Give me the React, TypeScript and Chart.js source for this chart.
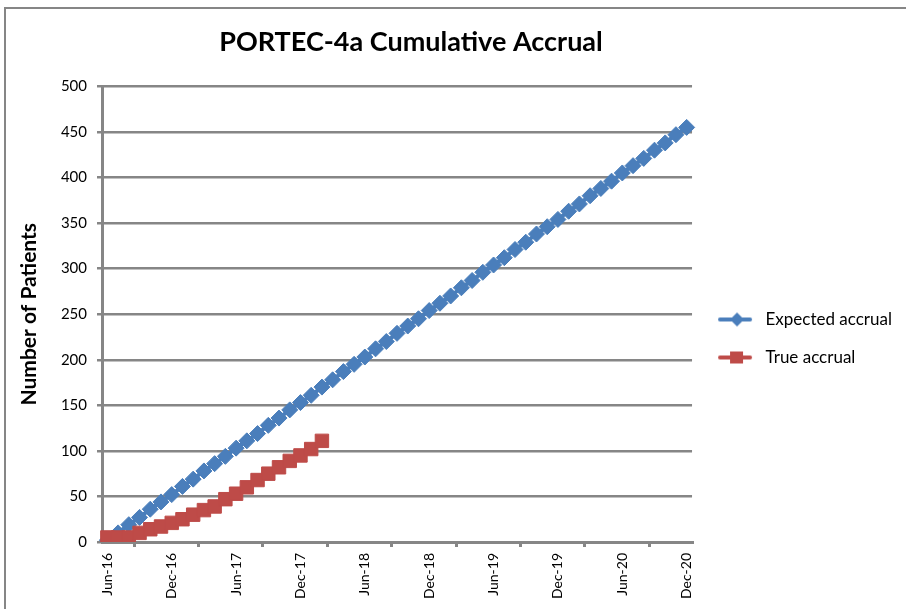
import React, { useEffect, useRef } from "react";
import { Chart, registerables } from "chart.js";

Chart.register(...registerables);

const months: string[] = [
  "Jun-16", "Jul-16", "Aug-16", "Sep-16", "Oct-16", "Nov-16", "Dec-16",
  "Jan-17", "Feb-17", "Mar-17", "Apr-17", "May-17", "Jun-17", "Jul-17", "Aug-17", "Sep-17", "Oct-17", "Nov-17", "Dec-17",
  "Jan-18", "Feb-18", "Mar-18", "Apr-18", "May-18", "Jun-18", "Jul-18", "Aug-18", "Sep-18", "Oct-18", "Nov-18", "Dec-18",
  "Jan-19", "Feb-19", "Mar-19", "Apr-19", "May-19", "Jun-19", "Jul-19", "Aug-19", "Sep-19", "Oct-19", "Nov-19", "Dec-19",
  "Jan-20", "Feb-20", "Mar-20", "Apr-20", "May-20", "Jun-20", "Jul-20", "Aug-20", "Sep-20", "Oct-20", "Nov-20", "Dec-20",
];

const expectedAccrual: number[] = [
  2, 10, 19, 27, 36, 44, 52, 61, 69, 78, 86, 94, 103, 111, 119, 128, 136, 145, 153, 161,
  170, 178, 187, 195, 203, 212, 220, 229, 237, 245, 254, 262, 270, 279, 287, 296, 304, 312,
  321, 329, 338, 346, 354, 363, 371, 380, 388, 396, 405, 413, 421, 430, 438, 447, 455,
];

const trueAccrual: number[] = [
  5, 5, 5, 10, 14, 17, 21, 25, 30, 35, 39, 47, 53, 60, 68, 75, 82, 89, 95, 102, 111,
];

const seriesLabels = ["Expected accrual", "True accrual"];
const yTicks = { min: 0, max: 500, step: 50 };

const BLUE = "#4A7EBB";
const RED = "#BE4B48";
const GREY = "#868686";
const FONT = "Lato";

function makeIcon(color: string, shape: "diamond" | "square") {
  const c = document.createElement("canvas");
  c.width = 36;
  c.height = 16;
  const g = c.getContext("2d")!;
  g.strokeStyle = color;
  g.lineWidth = 4;
  g.lineCap = "round";
  g.beginPath();
  g.moveTo(3, 8);
  g.lineTo(33, 8);
  g.stroke();
  g.fillStyle = color;
  g.beginPath();
  if (shape === "diamond") {
    g.moveTo(20, 1);
    g.lineTo(27, 8);
    g.lineTo(20, 15);
    g.lineTo(13, 8);
    g.closePath();
  } else {
    g.rect(13, 2, 13, 12);
  }
  g.fill();
  return c;
}

export default function App() {
  const ref = useRef<HTMLCanvasElement>(null);

  useEffect(() => {
    if (!ref.current) return;
    const icons = [makeIcon(BLUE, "diamond"), makeIcon(RED, "square")];
    const chart = new Chart(ref.current, {
      type: "line",
      data: {
        labels: months,
        datasets: [
          {
            label: seriesLabels[0],
            data: expectedAccrual,
            borderColor: BLUE,
            backgroundColor: BLUE,
            borderWidth: 4,
            pointStyle: "rectRot",
            pointRadius: 8,
            pointBorderWidth: 1,
            order: 1,
          },
          {
            label: seriesLabels[1],
            data: trueAccrual,
            borderColor: RED,
            backgroundColor: RED,
            borderWidth: 4,
            pointStyle: "rect",
            pointRadius: 9.5,
            pointBorderWidth: 1,
            order: 0,
          },
        ],
      },
      options: {
        responsive: false,
        animation: false,
        devicePixelRatio: 1,
        layout: { padding: 0 },
        plugins: {
          title: {
            display: true,
            text: "PORTEC-4a Cumulative Accrual",
            color: "#000",
            font: { family: FONT, size: 27, weight: "bold" },
            padding: { top: 26, bottom: 28 },
          },
          legend: {
            position: "right",
            labels: {
              usePointStyle: true,
              pointStyleWidth: 44,
              boxHeight: 17,
              padding: 21,
              color: "#000",
              font: { family: FONT, size: 17 },
              generateLabels: (ch: any) =>
                ch.data.datasets.map((ds: any, i: number) => ({
                  text: ds.label,
                  pointStyle: icons[i],
                  fillStyle: ds.backgroundColor,
                  strokeStyle: ds.borderColor,
                  lineWidth: 0,
                  hidden: false,
                  datasetIndex: i,
                  fontColor: "#000",
                })),
            },
          },
          tooltip: { enabled: false },
        },
        scales: {
          x: {
            type: "category",
            offset: true,
            afterFit: (s: any) => {
              s.height = 135;
            },
            grid: {
              offset: true,
              drawOnChartArea: false,
              drawTicks: true,
              tickLength: 5,
              lineWidth: 3,
              color: (ctx: any) => (ctx.index % 6 === 3 ? GREY : "rgba(0,0,0,0)"),
            },
            border: { display: true, color: GREY, width: 3 },
            ticks: {
              autoSkip: false,
              minRotation: 90,
              maxRotation: 90,
              padding: 6,
              color: "#000",
              font: { family: FONT, size: 14 },
              callback: (_v: any, i: number) => (i % 6 === 0 ? months[i] : ""),
            },
          },
          y: {
            min: yTicks.min,
            max: yTicks.max,
            afterFit: (s: any) => {
              s.width = 182;
            },
            grid: { color: GREY, lineWidth: 2.5, tickLength: 5 },
            border: { display: true, color: GREY, width: 3 },
            ticks: {
              stepSize: yTicks.step,
              padding: 10,
              color: "#000",
              font: { family: FONT, size: 15 },
            },
            title: {
              display: true,
              text: "Number of Patients",
              color: "#000",
              font: { family: FONT, size: 21, weight: "bold" },
              padding: { top: 97, bottom: 4 },
            },
          },
        },
      },
    });
    return () => chart.destroy();
  }, []);

  return (
    <div>
      <div
        style={{
          position: "fixed",
          left: 4,
          top: 7,
          width: 1000,
          height: 700,
          border: `2px solid ${GREY}`,
          boxSizing: "border-box",
          background: "#fff",
        }}
      />
      <canvas
        ref={ref}
        width={982}
        height={677}
        style={{ position: "fixed", left: -80, top: 0, width: 982, height: 677 }}
      />
    </div>
  );
}
